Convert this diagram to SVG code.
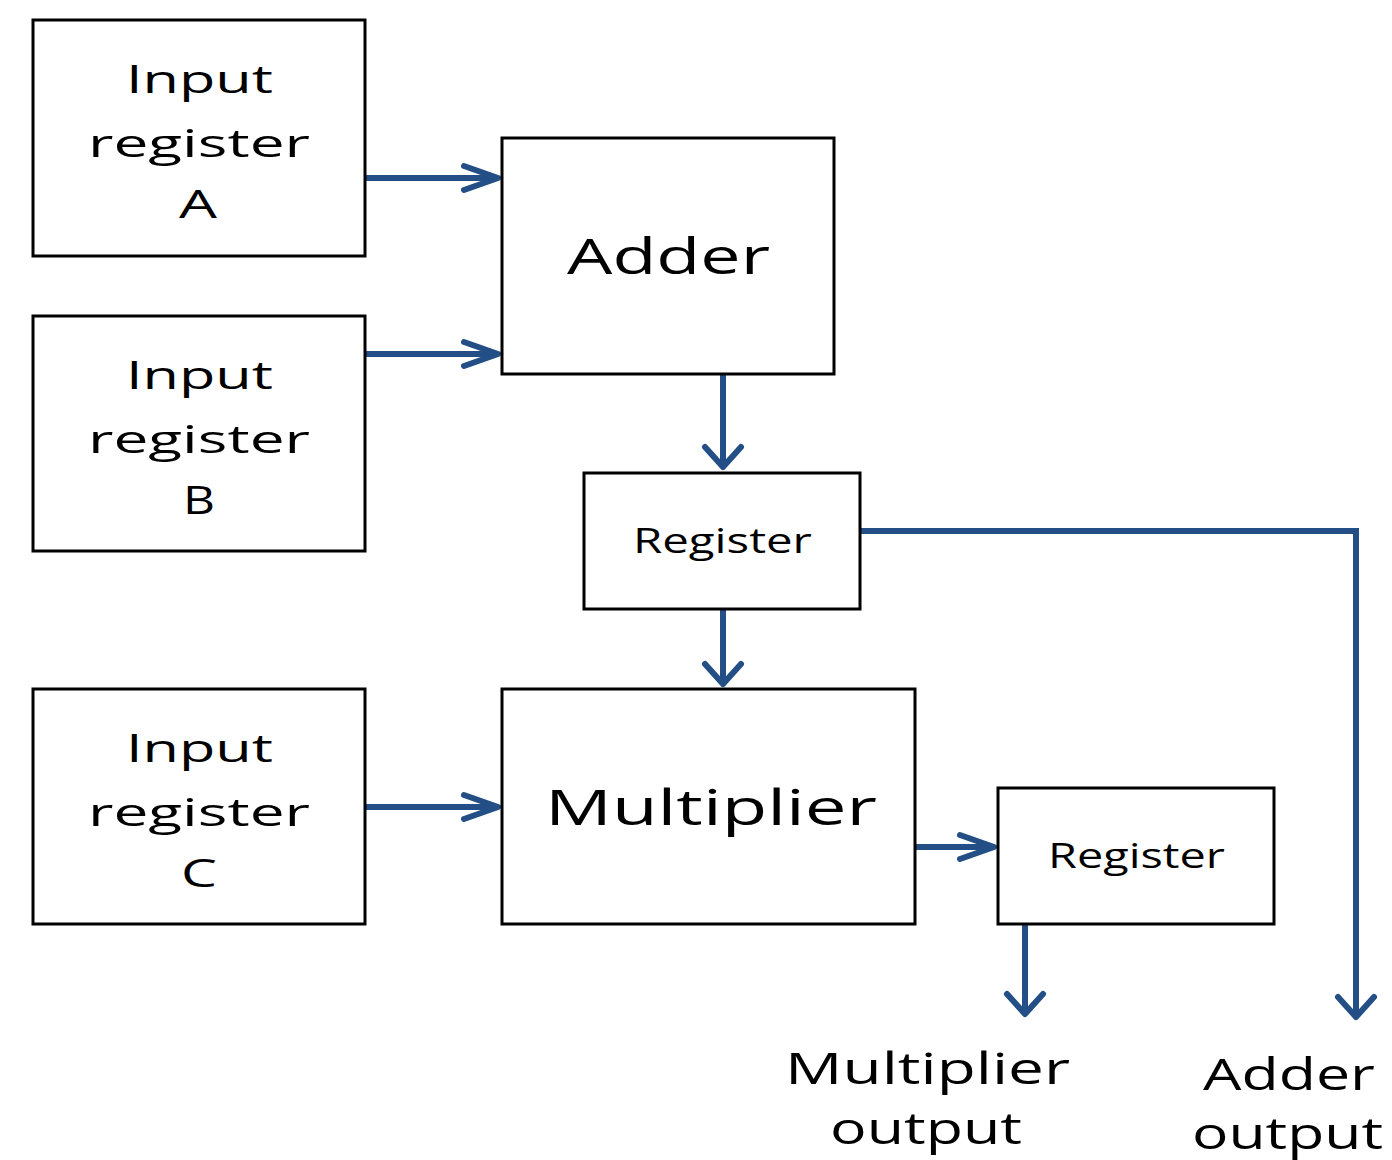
<svg xmlns="http://www.w3.org/2000/svg" width="1392" height="1160" viewBox="0 0 1392 1160">
  <style>
    .box { fill: #ffffff; stroke: #000000; stroke-width: 3; }
    .lbl { font-family: "Open Sans", "Liberation Sans", sans-serif; fill: #000000; text-anchor: start; }
    .wire { fill: none; stroke: #234F86; stroke-width: 6; }
    .head { fill: none; stroke: #234F86; stroke-width: 6; stroke-linecap: round; stroke-linejoin: round; }
  </style>
  <defs>
    <!-- chevron heads: wide shape for horizontal runs, broad-short shape for vertical runs -->
    <marker id="arrH" markerUnits="userSpaceOnUse" markerWidth="50" markerHeight="40" refX="45" refY="20" orient="0" overflow="visible">
      <path class="head" d="M11,8 L45,20 L11,32"/>
    </marker>
    <marker id="arrV" markerUnits="userSpaceOnUse" markerWidth="50" markerHeight="40" refX="25" refY="35" orient="0" overflow="visible">
      <path class="head" d="M7,15 L25,35 L43,15"/>
    </marker>
  </defs>

  <rect width="1392" height="1160" fill="#ffffff"/>

  <g id="connectors">
    <line class="wire" x1="365" y1="178" x2="498" y2="178" marker-end="url(#arrH)"/>
    <line class="wire" x1="365" y1="354" x2="498" y2="354" marker-end="url(#arrH)"/>
    <line class="wire" x1="365" y1="807" x2="498" y2="807" marker-end="url(#arrH)"/>
    <line class="wire" x1="723" y1="374" x2="723" y2="467" marker-end="url(#arrV)"/>
    <line class="wire" x1="723" y1="609" x2="723" y2="684" marker-end="url(#arrV)"/>
    <line class="wire" x1="915" y1="847" x2="994" y2="847" marker-end="url(#arrH)"/>
    <line class="wire" x1="1025" y1="924" x2="1025" y2="1014" marker-end="url(#arrV)"/>
    <polyline class="wire" points="860,531 1356,531 1356,1017" marker-end="url(#arrV)"/>
  </g>

  <g id="input-a">
    <rect class="box" x="33" y="20" width="332" height="236"/>
    <text class="lbl" font-size="38" x="126" y="93" textLength="147" lengthAdjust="spacingAndGlyphs">Input</text>
    <text class="lbl" font-size="38" x="88" y="157" textLength="222" lengthAdjust="spacingAndGlyphs">register</text>
    <text class="lbl" font-size="38" x="179" y="218" textLength="38" lengthAdjust="spacingAndGlyphs">A</text>
  </g>

  <g id="input-b">
    <rect class="box" x="33" y="316" width="332" height="235"/>
    <text class="lbl" font-size="38" x="126" y="389" textLength="147" lengthAdjust="spacingAndGlyphs">Input</text>
    <text class="lbl" font-size="38" x="88" y="453" textLength="222" lengthAdjust="spacingAndGlyphs">register</text>
    <text class="lbl" font-size="38" x="183" y="514" textLength="32" lengthAdjust="spacingAndGlyphs">B</text>
  </g>

  <g id="input-c">
    <rect class="box" x="33" y="689" width="332" height="235"/>
    <text class="lbl" font-size="38" x="126" y="762" textLength="147" lengthAdjust="spacingAndGlyphs">Input</text>
    <text class="lbl" font-size="38" x="88" y="826" textLength="222" lengthAdjust="spacingAndGlyphs">register</text>
    <text class="lbl" font-size="38" x="181" y="887" textLength="36" lengthAdjust="spacingAndGlyphs">C</text>
  </g>

  <g id="adder">
    <rect class="box" x="502" y="138" width="332" height="236"/>
    <text class="lbl" font-size="50" x="567" y="274" textLength="203" lengthAdjust="spacingAndGlyphs">Adder</text>
  </g>

  <g id="register-sum">
    <rect class="box" x="584" y="473" width="276" height="136"/>
    <text class="lbl" font-size="34" x="633" y="553" textLength="179" lengthAdjust="spacingAndGlyphs">Register</text>
  </g>

  <g id="multiplier">
    <rect class="box" x="502" y="689" width="413" height="235"/>
    <text class="lbl" font-size="50" x="545" y="825" textLength="332" lengthAdjust="spacingAndGlyphs">Multiplier</text>
  </g>

  <g id="register-product">
    <rect class="box" x="998" y="788" width="276" height="136"/>
    <text class="lbl" font-size="34" x="1048" y="868" textLength="177" lengthAdjust="spacingAndGlyphs">Register</text>
  </g>

  <g id="multiplier-output">
    <text class="lbl" font-size="43" x="785" y="1084" textLength="285" lengthAdjust="spacingAndGlyphs">Multiplier</text>
    <text class="lbl" font-size="43" x="830" y="1144" textLength="192" lengthAdjust="spacingAndGlyphs">output</text>
  </g>

  <g id="adder-output">
    <text class="lbl" font-size="44" x="1203" y="1090" textLength="172" lengthAdjust="spacingAndGlyphs">Adder</text>
    <text class="lbl" font-size="44" x="1192" y="1149" textLength="191" lengthAdjust="spacingAndGlyphs">output</text>
  </g>
</svg>
